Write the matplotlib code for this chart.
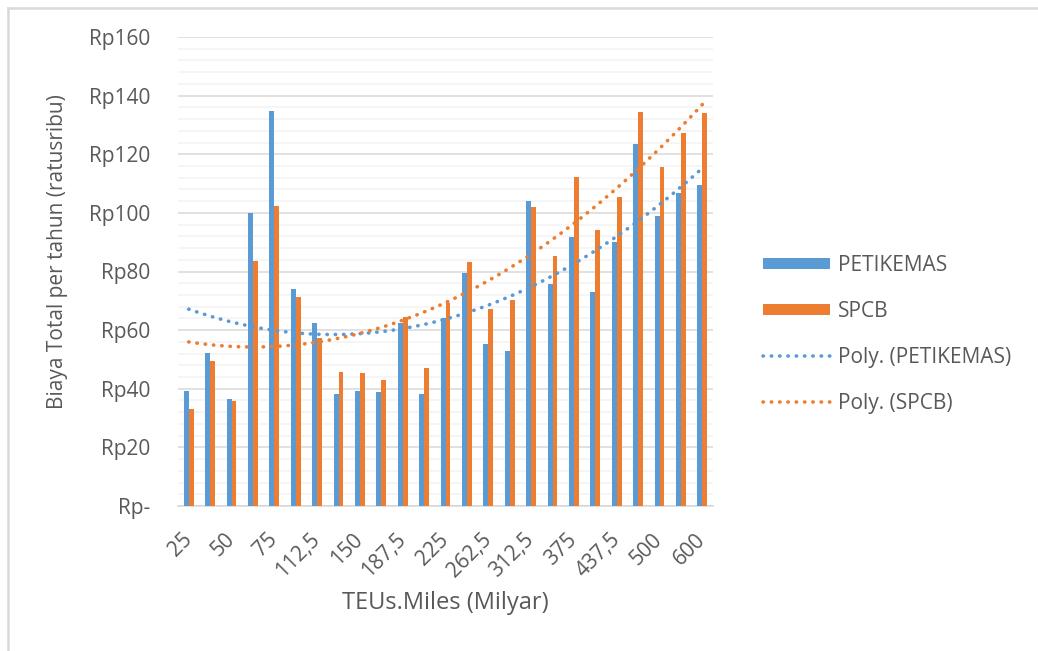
import numpy as np
import matplotlib
matplotlib.use("Agg")
import matplotlib.pyplot as plt
from matplotlib.lines import Line2D
from matplotlib.patches import Patch
from matplotlib.ticker import MultipleLocator, FixedLocator

plt.rcParams['font.family'] = ['Open Sans', 'DejaVu Sans']

# TEUs.Miles (billion) categories
categories = ["25", "37,5", "50", "62,5", "75", "93,75", "112,5", "125", "150", "162,5",
              "187,5", "200", "225", "250", "262,5", "300", "312,5", "350", "375", "400",
              "437,5", "450", "500", "525", "600"]

# Total annual cost (hundred-thousand Rp)
petikemas = [39.2, 52.3, 36.5, 100.1, 134.9, 73.9, 62.5, 38.3, 39.2, 38.8,
             62.5, 38.3, 64.1, 79.6, 55.1, 52.9, 104.1, 75.6, 91.9, 73.1,
             90.1, 123.5, 98.9, 106.7, 109.5]
spcb = [33.1, 49.3, 35.7, 83.5, 102.4, 71.3, 57.2, 45.8, 45.4, 43.1,
        64.5, 47.2, 69.4, 83.1, 67.3, 70.4, 101.9, 85.3, 112.1, 94.1,
        105.5, 134.4, 115.5, 127.4, 134.0]

y_ticks = [0, 20, 40, 60, 80, 100, 120, 140, 160]
y_tick_labels = ["Rp-", "Rp20", "Rp40", "Rp60", "Rp80", "Rp100", "Rp120", "Rp140", "Rp160"]

BLUE = "#5b9bd5"
ORANGE = "#ed7d31"
TEXT = "#595959"
DOTS = (0, (0.1, 2.2))

W, H = 1038, 651
fig = plt.figure(figsize=(W / 100, H / 100), dpi=100)
ax = fig.add_axes([178 / W, 1 - 506 / H, (713 - 178) / W, (506 - 37) / H])

x = np.arange(len(categories))
bw = 0.23
ax.bar(x - bw / 2, petikemas, width=bw, color=BLUE, zorder=3)
ax.bar(x + bw / 2, spcb, width=bw, color=ORANGE, zorder=3)

# Second-order polynomial trendlines over category index 1..N
xi = x + 1
xs = np.linspace(1, len(categories), 200)
for vals, col in [(petikemas, BLUE), (spcb, ORANGE)]:
    coef = np.polyfit(xi, vals, 2)
    ax.plot(xs - 1, np.polyval(coef, xs), color=col, lw=2.6,
            linestyle=DOTS, dash_capstyle='round', zorder=4)

ax.set_xlim(-0.5, len(categories) - 0.5)
ax.set_ylim(0, 160)
ax.yaxis.set_major_locator(FixedLocator(y_ticks))
ax.set_yticklabels(y_tick_labels)
ax.yaxis.set_minor_locator(MultipleLocator(4))
ax.grid(axis='y', which='major', color="#d9d9d9", lw=1.1, zorder=0)
ax.grid(axis='y', which='minor', color="#f2f2f2", lw=1.1, zorder=0)
ax.set_axisbelow(True)

for s in ['top', 'right', 'left']:
    ax.spines[s].set_visible(False)
ax.spines['bottom'].set_color("#d9d9d9")
ax.spines['bottom'].set_linewidth(1.2)

ax.tick_params(axis='y', which='both', length=0, pad=20, labelsize=15, labelcolor=TEXT)
ax.tick_params(axis='x', which='both', length=0)

ax.set_xticks(x[::2])
ax.set_xticklabels(categories[::2], rotation=45, ha='right', va='center',
                   rotation_mode='anchor', fontsize=15, color=TEXT)
ax.tick_params(axis='x', pad=22)

# Axis titles
fig.text(57 / W, 1 - 252 / H, "Biaya Total per tahun (ratusribu)", rotation=90,
         ha='center', va='center', fontsize=15, color=TEXT)
fig.text(445 / W, 1 - 603 / H, "TEUs.Miles (Milyar)",
         ha='center', va='center', fontsize=17, color=TEXT)

handles = [Patch(facecolor=BLUE, edgecolor='none'),
           Patch(facecolor=ORANGE, edgecolor='none'),
           Line2D([], [], color=BLUE, lw=2.6, linestyle=DOTS, dash_capstyle='round'),
           Line2D([], [], color=ORANGE, lw=2.6, linestyle=DOTS, dash_capstyle='round')]
labels = ["PETIKEMAS", "SPCB", "Poly. (PETIKEMAS)", "Poly. (SPCB)"]
fig.legend(handles, labels, loc='upper left', bbox_to_anchor=(763 / W, 1 - 255 / H),
           frameon=False, fontsize=15, labelcolor=TEXT, handlelength=3.2,
           handleheight=0.45, labelspacing=1.2, handletextpad=0.4,
           borderpad=0, borderaxespad=0)

# Chart area border (top and left edges)
fig.add_artist(Line2D([8 / W, 8 / W], [0, 1 - 8 / H], transform=fig.transFigure,
                      color="#d9d9d9", lw=1.8))
fig.add_artist(Line2D([8 / W, 1], [1 - 8 / H, 1 - 8 / H], transform=fig.transFigure,
                      color="#d9d9d9", lw=1.8))

fig.savefig("out.png", dpi=100, facecolor="white")
